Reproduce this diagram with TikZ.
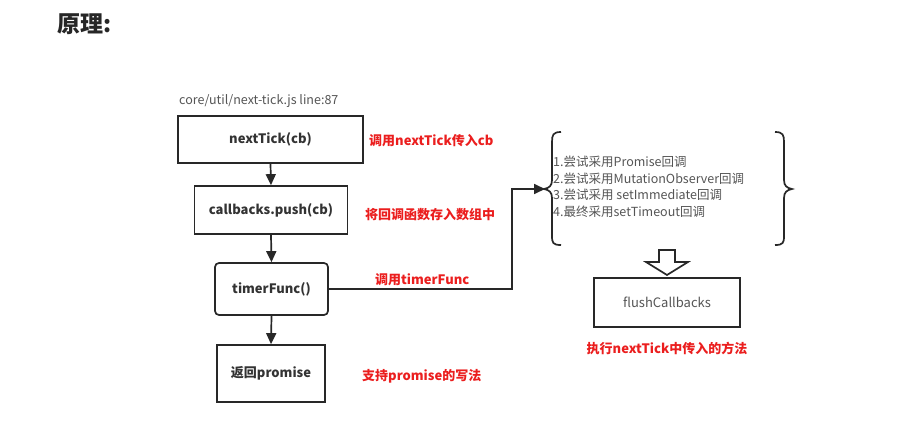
\documentclass[tikz,border=0pt]{standalone}
\usepackage{fontspec}
\setmainfont{Noto Sans CJK SC}
\usetikzlibrary{arrows.meta}
\definecolor{redtxt}{RGB}{235,30,30}
\definecolor{graytxt}{RGB}{85,85,85}
\definecolor{linec}{RGB}{40,40,40}
\tikzset{
  boxn/.style={draw=linec,line width=1.7pt,inner sep=0pt,font=\fontsize{13}{15}\selectfont\bfseries,text=black!80},
  redlab/.style={text=redtxt,font=\fontsize{13}{15}\selectfont\bfseries,inner sep=0pt,anchor=west},
  graylab/.style={text=graytxt,font=\fontsize{12.5}{15}\selectfont,inner sep=0pt},
  conn/.style={draw=linec,line width=1.7pt,-{Triangle[length=11pt,width=10pt]}}
}
\begin{document}
\begin{tikzpicture}[x=1pt,y=-1pt]
\useasboundingbox (0,0) rectangle (917,427);
\fill[white] (0,0) rectangle (917,427);
\node[anchor=west,inner sep=0pt,font=\fontsize{23}{26}\selectfont\bfseries,text=black!85] (title) at (57,24) {原理:};
\node[graylab,anchor=west] (file) at (179,101) {core/util/next-tick.js line:87};
\node[boxn,minimum width=185pt,minimum height=47pt] (nt) at (270.5,139.5) {nextTick(cb)};
\node[boxn,minimum width=153pt,minimum height=48pt] (cbp) at (271,210) {callbacks.push(cb)};
\node[boxn,rounded corners=4pt,minimum width=113pt,minimum height=52pt] (tf) at (271.5,289) {timerFunc()};
\node[boxn,minimum width=108pt,minimum height=57pt] (rp) at (271,373.5) {返回promise};
\node[redlab] (l1) at (369,141) {调用nextTick传入cb};
\node[redlab] (l2) at (365,215) {将回调函数存入数组中};
\node[redlab] (l3) at (375,280) {调用timerFunc};
\node[redlab] (l4) at (362,376) {支持promise的写法};
\draw[conn] (nt.south) -- (cbp.north);
\draw[conn] (cbp.south) -- (tf.north);
\draw[conn] (tf.south) -- (rp.north);
% brace list
\node[graylab,anchor=north west,align=left,font=\fontsize{12.5}{16.5}\selectfont] (list) at (553,156) {1.尝试采用Promise回调\\2.尝试采用MutationObserver回调\\3.尝试采用 setImmediate回调\\4.最终采用setTimeout回调};
\coordinate (tip) at (545,189);
\draw[conn] (tf.east) -- (512,289) -- (512,189) -- (tip);
\draw[linec,line width=1.7pt] (561,132) .. controls (553,132) and (552,135) .. (552,142) -- (552,180) .. controls (552,186) and (549,188) .. (544,189) .. controls (549,190) and (552,192) .. (552,198) -- (552,236) .. controls (552,243) and (553,245) .. (561,245);
\draw[linec,line width=1.7pt] (775,132) .. controls (783,132) and (784,135) .. (784,142) -- (784,180) .. controls (784,186) and (787,188) .. (792,189) .. controls (787,190) and (784,192) .. (784,198) -- (784,236) .. controls (784,243) and (783,245) .. (775,245);
% hollow arrow
\draw[linec,line width=1.7pt,fill=white] (659,250) -- (675,250) -- (675,262) -- (688,262) -- (667,275) -- (646,262) -- (659,262) -- cycle;
\node[draw=linec,line width=1.7pt,minimum width=146pt,minimum height=49pt,graylab,font=\fontsize{13}{15}\selectfont] (fc) at (667,302.5) {flushCallbacks};
\node[redlab,anchor=center] (l5) at (667,349) {执行nextTick中传入的方法};
\end{tikzpicture}
\end{document}
